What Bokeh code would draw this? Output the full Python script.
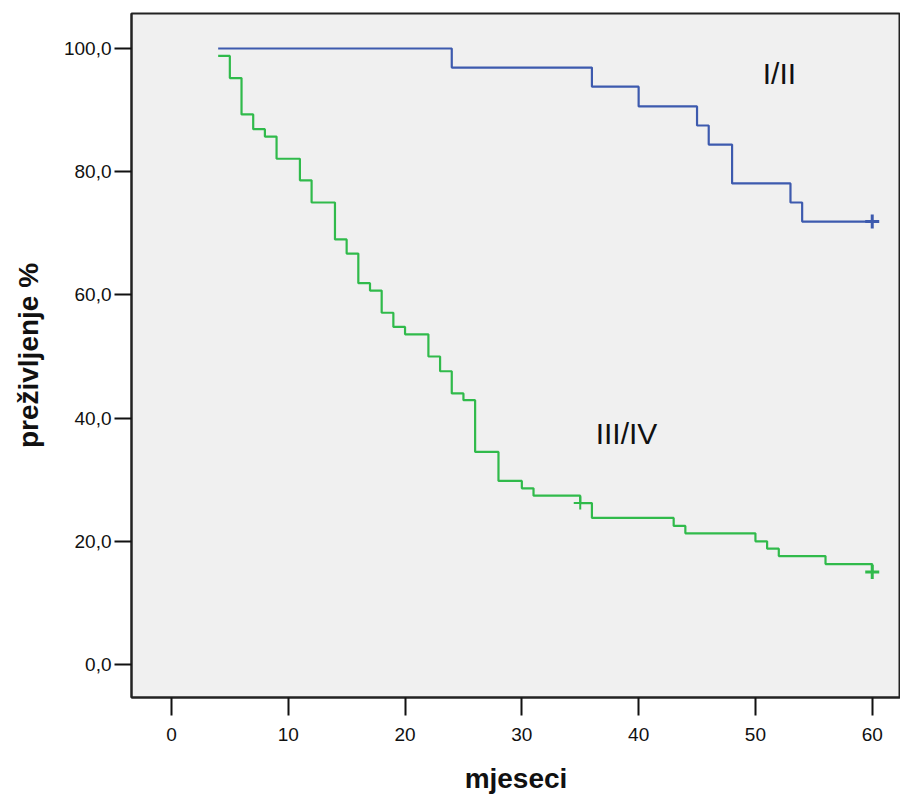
from bokeh.plotting import figure
from bokeh.models import FixedTicker, Range1d
from bokeh.core.properties import value
from bokeh.embed import file_html
from bokeh.resources import INLINE

# Group I/II (Kaplan-Meier)
t_12 = [4, 24, 36, 40, 45, 46, 48, 53, 54, 60]
s_12 = [100.0, 96.9, 93.8, 90.6, 87.5, 84.4, 78.1, 75.0, 71.9, 71.9]
cens_t_12 = [60]
cens_s_12 = [71.9]

# Group III/IV (Kaplan-Meier)
t_34 = [4, 5, 6, 7, 8, 9, 11, 12, 14, 15, 16, 17, 18, 19, 20, 22, 23, 24, 25, 26,
        28, 30, 31, 35, 36, 43, 44, 50, 51, 52, 56, 60]
s_34 = [98.8, 95.2, 89.3, 86.9, 85.7, 82.1, 78.6, 75.0, 69.0, 66.7, 61.9, 60.7,
        57.1, 54.8, 53.6, 50.0, 47.6, 44.0, 42.9, 34.5, 29.8, 28.6, 27.4, 26.2,
        23.8, 22.5, 21.3, 20.0, 18.8, 17.6, 16.3, 15.0]
cens_t_34 = [35, 60]
cens_s_34 = [26.2, 15.0]

x_ticks = [0, 10, 20, 30, 40, 50, 60]
y_ticks = [0, 20, 40, 60, 80, 100]
y_tick_labels = ["0,0", "20,0", "40,0", "60,0", "80,0", "100,0"]

labels = ["I/II", "III/IV"]
label_x = [52.05, 38.96]
label_y = [95.9, 37.45]

BLUE = "#3d5aae"
GREEN = "#30ba4b"
FONT = "Liberation Sans"

p = figure(width=900, height=798, output_backend="svg", toolbar_location=None,
           x_range=Range1d(-3.42, 62.42), y_range=Range1d(-5.36, 105.68),
           min_border_left=131, min_border_top=13, min_border_bottom=101,
           min_border_right=0)

p.background_fill_color = "#f0f0f0"
p.border_fill_color = "white"
p.outline_line_color = "#222222"
p.outline_line_width = 2
p.xgrid.visible = False
p.ygrid.visible = False

p.step(t_12, s_12, mode="after", line_color=BLUE, line_width=2.2)
p.step(t_34, s_34, mode="after", line_color=GREEN, line_width=2.2)
p.scatter(cens_t_12, cens_s_12, marker="cross", size=14, line_color=BLUE, line_width=3)
p.scatter(cens_t_34[1:], cens_s_34[1:], marker="cross", size=14, line_color=GREEN, line_width=3)
p.scatter(cens_t_34[:1], cens_s_34[:1], marker="cross", size=13, line_color=GREEN, line_width=2)

p.text(label_x, label_y, text=labels, text_align="center", text_baseline="middle",
       text_font=value(FONT), text_font_size="30px", text_color="#111111")

for ax in (p.xaxis[0], p.yaxis[0]):
    ax.axis_line_color = "#222222"
    ax.axis_line_width = 2
    ax.major_tick_line_color = "#111111"
    ax.major_tick_line_width = 2
    ax.major_tick_in = 0
    ax.minor_tick_line_color = None
    ax.major_label_text_font = FONT
    ax.major_label_text_font_size = "19px"
    ax.major_label_text_color = "#111111"
    ax.axis_label_text_font = FONT
    ax.axis_label_text_font_style = "bold"
    ax.axis_label_text_font_size = "28px"
    ax.axis_label_text_color = "#111111"

p.xaxis.ticker = FixedTicker(ticks=x_ticks)
p.yaxis.ticker = FixedTicker(ticks=y_ticks)
p.yaxis.major_label_overrides = {t: l for t, l in zip(y_ticks, y_tick_labels)}
p.xaxis.major_tick_out = 18
p.yaxis.major_tick_out = 17
p.xaxis.major_label_standoff = 12
p.yaxis.major_label_standoff = 3
p.xaxis.axis_label = "mjeseci"
p.yaxis.axis_label = "preživljenje %"
p.xaxis.axis_label_standoff = 19
p.yaxis.axis_label_standoff = 17

open("out.html", "w").write(file_html(p, INLINE))
